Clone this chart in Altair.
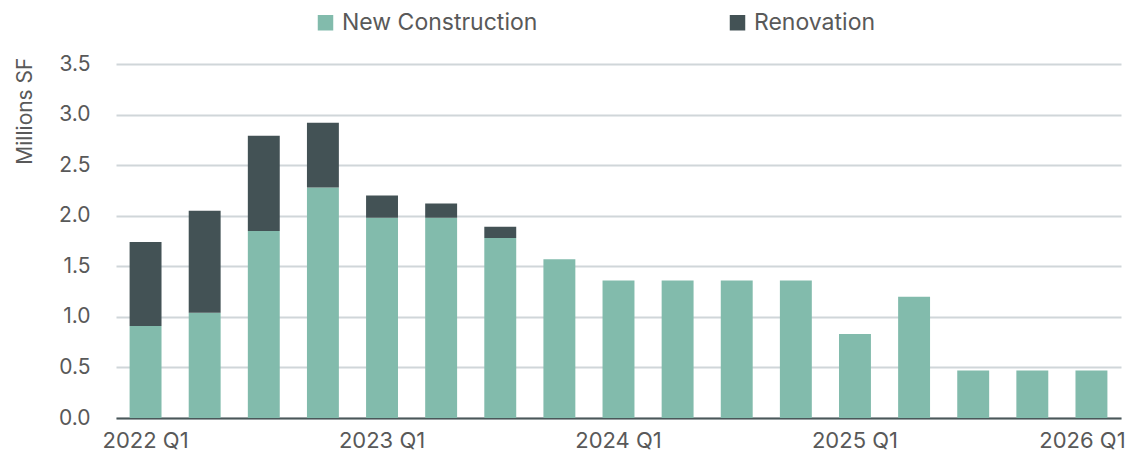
import altair as alt
import pandas as pd

quarters = ["2022 Q1", "2022 Q2", "2022 Q3", "2022 Q4",
            "2023 Q1", "2023 Q2", "2023 Q3", "2023 Q4",
            "2024 Q1", "2024 Q2", "2024 Q3", "2024 Q4",
            "2025 Q1", "2025 Q2", "2025 Q3", "2025 Q4",
            "2026 Q1"]
new_construction = [0.91, 1.04, 1.85, 2.28, 1.98, 1.98, 1.78, 1.57,
                    1.36, 1.36, 1.36, 1.36, 0.83, 1.20, 0.47, 0.47, 0.47]
renovation = [0.83, 1.01, 0.94, 0.64, 0.22, 0.14, 0.11, 0.0,
              0.0, 0.0, 0.0, 0.0, 0.0, 0.0, 0.0, 0.0, 0.0]
series = ["New Construction", "Renovation"]
colors = ["#82BBAC", "#435255"]

rows = []
for q, n, r in zip(quarters, new_construction, renovation):
    rows.append({"quarter": q, "type": series[0], "value": n, "ord": 0})
    rows.append({"quarter": q, "type": series[1], "value": r, "ord": 1})
df = pd.DataFrame(rows)

FONT = "Inter"
TXT = "#595959"

chart = alt.Chart(df).mark_bar().encode(
    x=alt.X("quarter:N", sort=quarters, title=None,
            scale=alt.Scale(paddingInner=0.46, paddingOuter=0.23),
            axis=alt.Axis(labelAngle=0, ticks=False, domainColor="#4A5759",
                          domainWidth=2, labelPadding=12, labelFontSize=22,
                          labelColor=TXT, labelFont=FONT, grid=False,
                          labelOverlap=False, labelBound=False,
                          labelOffset={"condition": {"test": "datum.value == '2026 Q1'",
                                                     "value": -9},
                                       "value": 0},
                          labelExpr="indexof(datum.label, 'Q1') >= 0 ? datum.label : ''")),
    y=alt.Y("value:Q", stack="zero", title="Millions SF",
            scale=alt.Scale(domain=[0, 3.5], nice=False),
            axis=alt.Axis(values=[0, 0.5, 1, 1.5, 2, 2.5, 3, 3.5], format=".1f",
                          domain=False, ticks=False, labelPadding=26,
                          labelFontSize=21, labelColor=TXT, labelFont=FONT,
                          gridColor="#D0D6D9", gridWidth=2,
                          titleFont=FONT, titleFontSize=21, titleColor=TXT,
                          titleFontWeight="normal", titleAngle=270,
                          titleX=-91, titleY=-7, titleAlign="right",
                          titleBaseline="middle")),
    color=alt.Color("type:N", scale=alt.Scale(domain=series, range=colors),
                    legend=alt.Legend(title=None, orient="none", legendX=198,
                                      legendY=-53, direction="horizontal",
                                      columns=2, columnPadding=188,
                                      symbolType="square", symbolSize=240,
                                      symbolStrokeWidth=0, labelOffset=5,
                                      labelFontSize=23, labelColor=TXT,
                                      labelLimit=400, labelFont=FONT)),
    order=alt.Order("ord:Q", sort="ascending"),
).properties(
    width=1005, height=354,
    autosize=alt.AutoSizeParams(type="none"),
    padding={"left": 108, "top": 56, "right": 8, "bottom": 37},
).configure_view(stroke=None)

chart.save("out.html", embed_options={"renderer": "svg", "actions": False})
